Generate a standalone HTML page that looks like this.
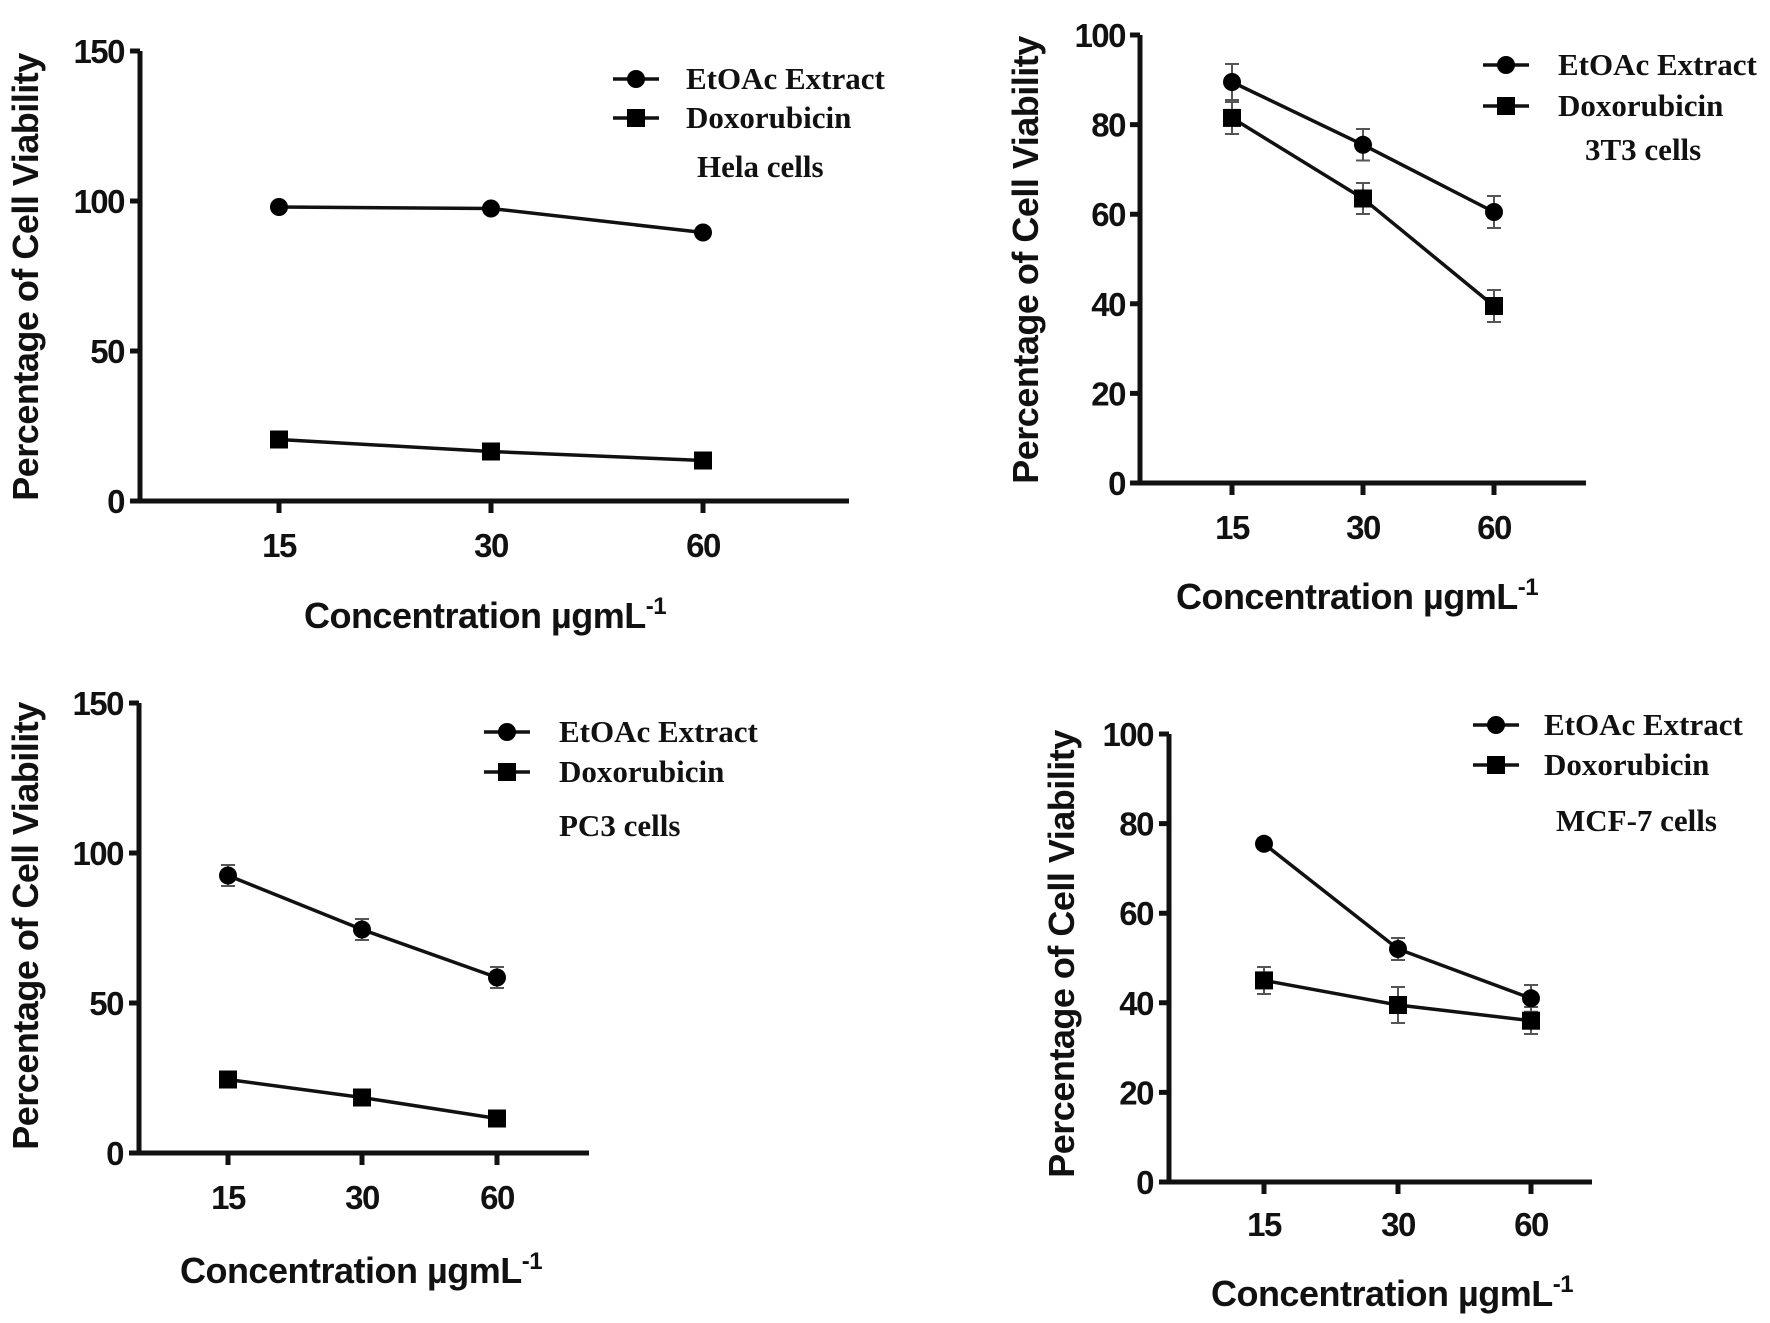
<!DOCTYPE html>
<html><head><meta charset="utf-8"><style>
html,body{margin:0;padding:0;background:#fff}
svg{display:block}
.t{font-family:"Liberation Sans",sans-serif;font-weight:bold;font-size:33px;letter-spacing:-1.5px;fill:#111}
.at{font-family:"Liberation Sans",sans-serif;font-weight:bold;font-size:36px;letter-spacing:-0.5px;fill:#111}
.lg{font-family:"Liberation Serif",serif;font-weight:bold;font-size:31px;fill:#111}
.ax{stroke:#111;stroke-width:5;fill:none}
.ln{stroke:#111;stroke-width:3.5;fill:none}
.er{stroke:#555;stroke-width:2;fill:none}
</style></head><body>
<svg width="1770" height="1323" viewBox="0 0 1770 1323" xmlns="http://www.w3.org/2000/svg">
<!-- Panel 1 -->
<g>
<path class="ax" d="M140 51 V501 H849"/>
<path class="ax" d="M130 51H140 M130 201H140 M130 351H140 M130 501H140 M279 501V513 M491 501V513 M703 501V513"/>
<g class="t" text-anchor="end"><text x="124" y="63">150</text><text x="124" y="213">100</text><text x="124" y="363">50</text><text x="124" y="513">0</text></g>
<g class="t" text-anchor="middle"><text x="279" y="557">15</text><text x="491" y="557">30</text><text x="703" y="557">60</text></g>
<text class="at" x="485" y="628" text-anchor="middle">Concentration µgmL<tspan dy="-14" font-size="24">-1</tspan></text>
<text class="at" transform="translate(38,277) rotate(-90)" text-anchor="middle">Percentage of Cell Viability</text>
<polyline class="ln" points="279,207 491,208.5 703,232.5"/>
<polyline class="ln" points="279,439.5 491,451.5 703,460.5"/>
<circle cx="279" cy="207" r="9"/><circle cx="491" cy="208.5" r="9"/><circle cx="703" cy="232.5" r="9"/>
<rect x="270" y="430.5" width="18" height="18"/><rect x="482" y="442.5" width="18" height="18"/><rect x="694" y="451.5" width="18" height="18"/>
<path class="ln" d="M613 79H659 M613 118H659"/><circle cx="636" cy="79" r="9"/><rect x="627" y="109" width="18" height="18"/>
<text class="lg" x="686" y="89">EtOAc Extract</text><text class="lg" x="686" y="128">Doxorubicin</text><text class="lg" x="697" y="177">Hela cells</text>
</g>
<!-- Panel 2 -->
<g>
<path class="ax" d="M1140 35 V483 H1586"/>
<path class="ax" d="M1130 35H1140 M1130 124.6H1140 M1130 214.2H1140 M1130 303.8H1140 M1130 393.4H1140 M1130 483H1140 M1232 483V495 M1363 483V495 M1494 483V495"/>
<g class="t" text-anchor="end"><text x="1125" y="47">100</text><text x="1125" y="136.6">80</text><text x="1125" y="226.2">60</text><text x="1125" y="315.8">40</text><text x="1125" y="405.4">20</text><text x="1125" y="495">0</text></g>
<g class="t" text-anchor="middle"><text x="1232" y="539">15</text><text x="1363" y="539">30</text><text x="1494" y="539">60</text></g>
<text class="at" x="1357" y="609" text-anchor="middle">Concentration µgmL<tspan dy="-14" font-size="24">-1</tspan></text>
<text class="at" transform="translate(1038,260) rotate(-90)" text-anchor="middle">Percentage of Cell Viability</text>
<path class="er" d="M1232 64V100 M1225 64H1239 M1225 100H1239 M1363 129V160.5 M1356 129H1370 M1356 160.5H1370 M1494 196V228 M1487 196H1501 M1487 228H1501 M1232 102V134 M1225 102H1239 M1225 134H1239 M1363 183V214 M1356 183H1370 M1356 214H1370 M1494 290V322 M1487 290H1501 M1487 322H1501"/>
<polyline class="ln" points="1232,82 1363,144.8 1494,212"/>
<polyline class="ln" points="1232,117.9 1363,198.5 1494,306"/>
<circle cx="1232" cy="82" r="9"/><circle cx="1363" cy="144.8" r="9"/><circle cx="1494" cy="212" r="9"/>
<rect x="1223" y="108.9" width="18" height="18"/><rect x="1354" y="189.5" width="18" height="18"/><rect x="1485" y="297" width="18" height="18"/>
<path class="ln" d="M1483 65H1529 M1483 106H1529"/><circle cx="1506" cy="65" r="9"/><rect x="1497" y="97" width="18" height="18"/>
<text class="lg" x="1558" y="75">EtOAc Extract</text><text class="lg" x="1558" y="116">Doxorubicin</text><text class="lg" x="1585" y="160">3T3 cells</text>
</g>
<!-- Panel 3 -->
<g>
<path class="ax" d="M139 703 V1153 H589"/>
<path class="ax" d="M129 703H139 M129 853H139 M129 1003H139 M129 1153H139 M228 1153V1165 M362 1153V1165 M497 1153V1165"/>
<g class="t" text-anchor="end"><text x="123" y="715">150</text><text x="123" y="865">100</text><text x="123" y="1015">50</text><text x="123" y="1165">0</text></g>
<g class="t" text-anchor="middle"><text x="228" y="1209">15</text><text x="362" y="1209">30</text><text x="497" y="1209">60</text></g>
<text class="at" x="361" y="1283" text-anchor="middle">Concentration µgmL<tspan dy="-14" font-size="24">-1</tspan></text>
<text class="at" transform="translate(38,926) rotate(-90)" text-anchor="middle">Percentage of Cell Viability</text>
<path class="er" d="M228 865V886 M221 865H235 M221 886H235 M362 919V940 M355 919H369 M355 940H369 M497 967V988 M490 967H504 M490 988H504"/>
<polyline class="ln" points="228,875.5 362,929.5 497,977.5"/>
<polyline class="ln" points="228,1079.5 362,1097.5 497,1118.5"/>
<circle cx="228" cy="875.5" r="9"/><circle cx="362" cy="929.5" r="9"/><circle cx="497" cy="977.5" r="9"/>
<rect x="219" y="1070.5" width="18" height="18"/><rect x="353" y="1088.5" width="18" height="18"/><rect x="488" y="1109.5" width="18" height="18"/>
<path class="ln" d="M484 732H530 M484 772H530"/><circle cx="507" cy="732" r="9"/><rect x="498" y="763" width="18" height="18"/>
<text class="lg" x="559" y="742">EtOAc Extract</text><text class="lg" x="559" y="782">Doxorubicin</text><text class="lg" x="559" y="836">PC3 cells</text>
</g>
<!-- Panel 4 -->
<g>
<path class="ax" d="M1169 734 V1182 H1592"/>
<path class="ax" d="M1159 734H1169 M1159 823.6H1169 M1159 913.2H1169 M1159 1002.8H1169 M1159 1092.4H1169 M1159 1182H1169 M1264 1182V1194 M1398 1182V1194 M1531 1182V1194"/>
<g class="t" text-anchor="end"><text x="1153" y="746">100</text><text x="1153" y="835.6">80</text><text x="1153" y="925.2">60</text><text x="1153" y="1014.8">40</text><text x="1153" y="1104.4">20</text><text x="1153" y="1194">0</text></g>
<g class="t" text-anchor="middle"><text x="1264" y="1236">15</text><text x="1398" y="1236">30</text><text x="1531" y="1236">60</text></g>
<text class="at" x="1392" y="1306" text-anchor="middle">Concentration µgmL<tspan dy="-14" font-size="24">-1</tspan></text>
<text class="at" transform="translate(1074,954) rotate(-90)" text-anchor="middle">Percentage of Cell Viability</text>
<path class="er" d="M1398 938V960 M1391 938H1405 M1391 960H1405 M1531 985V1011.7 M1524 985H1538 M1524 1011.7H1538 M1264 967V994 M1257 967H1271 M1257 994H1271 M1398 987V1023 M1391 987H1405 M1391 1023H1405 M1531 1007V1034 M1524 1007H1538 M1524 1034H1538"/>
<polyline class="ln" points="1264,843.8 1398,949 1531,998.3"/>
<polyline class="ln" points="1264,980.4 1398,1005 1531,1020.7"/>
<circle cx="1264" cy="843.8" r="9"/><circle cx="1398" cy="949" r="9"/><circle cx="1531" cy="998.3" r="9"/>
<rect x="1255" y="971.4" width="18" height="18"/><rect x="1389" y="996" width="18" height="18"/><rect x="1522" y="1011.7" width="18" height="18"/>
<path class="ln" d="M1473 725H1519 M1473 765H1519"/><circle cx="1496" cy="725" r="9"/><rect x="1487" y="756" width="18" height="18"/>
<text class="lg" x="1544" y="735">EtOAc Extract</text><text class="lg" x="1544" y="775">Doxorubicin</text><text class="lg" x="1556" y="831">MCF-7 cells</text>
</g>
</svg>
</body></html>
